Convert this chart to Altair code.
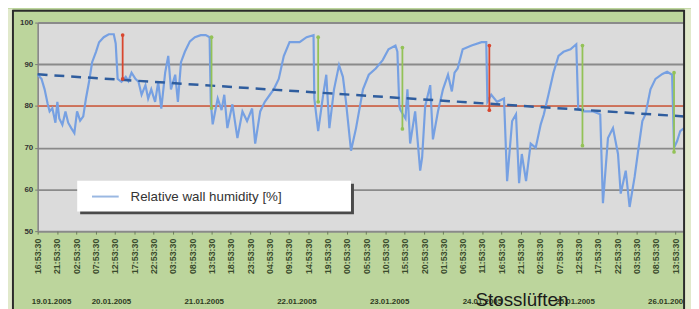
import altair as alt
import pandas as pd

# ---- data ----
hours = [0.0, 1.0, 1.8, 2.6, 3.1, 3.8, 4.6, 5.1, 5.6, 6.4,
         7.2, 7.9, 8.7, 9.5, 10.2, 11.0, 11.8, 12.5, 13.3, 14.1,
         15.1, 15.9, 17.1, 18.4, 19.7, 20.2, 20.7, 21.7, 22.8, 23.5,
         24.3, 25.3, 26.1, 26.9, 27.9, 28.6, 29.4, 30.4, 31.2, 32.0,
         33.0, 33.8, 34.5, 35.6, 36.3, 37.1, 38.1, 39.4, 40.7, 42.2,
         43.5, 44.5, 44.8, 45.3, 46.0, 46.6, 47.6, 48.3, 49.1, 50.4,
         51.7, 53.0, 54.2, 55.5, 56.3, 57.6, 58.8, 60.1, 61.1, 62.4,
         63.7, 65.2, 67.8, 69.6, 71.4, 71.6, 72.6, 73.9, 74.7, 75.5,
         76.7, 78.0, 79.0, 79.8, 81.1, 82.4, 84.2, 85.7, 87.5, 89.3,
         90.8, 92.6, 93.1, 93.6, 93.9, 95.2, 95.7, 96.4, 97.7, 99.0,
         99.5, 100.3, 101.6, 102.3, 103.6, 104.9, 106.2, 107.2, 107.9, 108.7,
         110.0, 112.3, 114.9, 116.1, 116.4, 117.4, 118.9, 120.7, 121.5, 122.8,
         123.8, 124.6, 125.3, 126.4, 127.6, 128.9, 130.2, 131.0, 132.2, 133.5,
         134.8, 136.1, 137.9, 139.4, 139.9, 141.2, 143.8, 145.6, 146.3, 147.6,
         148.9, 150.2, 150.9, 152.2, 153.2, 154.5, 155.3, 156.5, 157.3, 158.6,
         159.9, 161.7, 162.9, 164.2, 164.7, 165.5, 166.3, 167.3]
humidity = [87.5, 86.5, 84.0, 80.5, 78.7, 79.5, 76.0, 81.0, 77.0, 75.5,
            78.7, 76.0, 74.7, 73.5, 78.7, 76.5, 77.5, 81.8, 85.8, 90.5,
            93.0, 95.3, 96.5, 97.2, 97.2, 95.0, 86.5, 85.8, 87.0, 86.0,
            88.0, 86.5, 85.8, 82.7, 85.0, 81.8, 84.0, 81.0, 85.8, 79.4,
            88.0, 92.0, 84.0, 87.5, 81.0, 90.5, 93.0, 95.5, 96.5, 97.0,
            97.0, 96.5, 81.0, 75.6, 79.0, 81.8, 79.0, 82.7, 74.7, 80.4,
            72.3, 78.7, 76.4, 79.4, 71.0, 78.7, 81.0, 82.7, 84.0, 86.5,
            92.0, 95.3, 95.3, 96.5, 97.0, 81.8, 74.0, 82.7, 87.5, 74.7,
            84.0, 89.8, 87.0, 81.0, 69.3, 74.7, 84.0, 87.5, 89.0, 91.0,
            93.6, 94.5, 93.0, 80.0, 79.0, 77.0, 84.0, 71.0, 78.7, 64.5,
            67.6, 80.0, 85.0, 72.0, 78.7, 84.0, 87.5, 83.5, 88.0, 89.0,
            93.6, 94.5, 95.3, 95.3, 81.0, 82.7, 81.0, 81.8, 62.0, 76.4,
            78.0, 61.5, 68.5, 62.0, 71.0, 70.0, 75.6, 78.0, 82.7, 88.0,
            92.0, 93.0, 93.6, 94.8, 79.4, 78.7, 78.7, 78.0, 56.7, 72.3,
            74.7, 68.5, 59.0, 64.5, 55.8, 63.0, 68.5, 76.4, 78.0, 84.0,
            86.5, 87.7, 88.2, 87.5, 70.0, 71.6, 74.0, 74.7]

trend_hours = [0.0, 167.3]
trend_values = [87.6, 77.5]

threshold = [80]

marker_hours = [22.0, 45.0, 72.6, 94.4, 116.9, 141.0, 164.7]
marker_top = [97.0, 96.5, 96.5, 94.0, 94.5, 94.5, 88.0]
marker_bottom = [86.5, 79.5, 81.0, 74.5, 79.0, 70.5, 69.0]
marker_colors = ["#d8472f", "#93c257", "#93c257", "#93c257", "#d8472f", "#93c257", "#93c257"]

tick_labels = ["16:53:30", "21:53:30", "02:53:30", "07:53:30", "12:53:30", "17:53:30",
               "22:53:30", "03:53:30", "08:53:30", "13:53:30", "18:53:30", "23:53:30",
               "04:53:30", "09:53:30", "14:53:30", "19:53:30", "00:53:30", "05:53:30",
               "10:53:30", "15:53:30", "20:53:30", "01:53:30", "06:53:30", "11:53:30",
               "16:53:30", "21:53:30", "02:53:30", "07:53:30", "12:53:30", "17:53:30",
               "22:53:30", "03:53:30", "08:53:30", "13:53:30"]
tick_step = 5

date_labels = ["19.01.2005", "20.01.2005", "21.01.2005", "22.01.2005",
               "23.01.2005", "24.01.2005", "25.01.2005", "26.01.2005"]
date_hours = [3.6, 19.1, 43.1, 67.1, 91.1, 115.1, 139.1, 163.1]

y_ticks = [50, 60, 70, 80, 90, 100]
legend_label = "Relative wall humidity [%]"
note_text = "Stosslüften"

# ---- tables ----
line_df = pd.DataFrame({"h": hours, "v": humidity})
trend_df = pd.DataFrame({"h": trend_hours, "v": trend_values})
thr_df = pd.DataFrame({"v": threshold})
mk_df = pd.DataFrame({"h": marker_hours, "top": marker_top, "bot": marker_bottom, "c": marker_colors})
date_df = pd.DataFrame({"h": date_hours, "t": date_labels})
one = alt.Data(values=[{"k": 1}])

W, H = 654, 211
FONT = "Liberation Sans"
OUTSIDE = "#e1e9cb"

label_js = "[" + ",".join("'" + s + "'" for s in tick_labels) + "][round(datum.value / %d)]" % tick_step
tick_vals = [i * tick_step for i in range(len(tick_labels))]

xscale = alt.Scale(domain=[0, 167.3], nice=False, zero=False)
yscale = alt.Scale(domain=[50, 100], nice=False, zero=False)

xaxis = alt.Axis(values=tick_vals, labelExpr=label_js, labelAngle=270, labelFontSize=9,
                 labelFontWeight="bold", labelColor="#3a4a2c", labelFont=FONT,
                 tickColor="#6a7a5a", tickSize=3, labelPadding=4, domain=False,
                 grid=False, title=None, labelOverlap=False, labelBound=False,
                 labelFlush=False)
yaxis = alt.Axis(values=y_ticks, labelFontSize=8, labelFontWeight="bold", labelColor="#333333",
                 labelFont=FONT, tickColor="#777777", tickSize=3, labelPadding=2,
                 domain=True, domainColor="#808080", domainWidth=1.5,
                 grid=True, gridColor="#8a8a8a", gridWidth=2, title=None)


def X(field):
    return alt.X(field, type="quantitative", scale=xscale, axis=xaxis)


def Y(field):
    return alt.Y(field, type="quantitative", scale=yscale, axis=yaxis)


# decorative frame and outside strips
left_strip = alt.Chart(one).mark_rect(fill=OUTSIDE).encode(
    x=alt.value(-31), x2=alt.value(-25), y=alt.value(-14), y2=alt.value(300))
right_strip = alt.Chart(one).mark_rect(fill=OUTSIDE).encode(
    x=alt.value(W), x2=alt.value(W + 10), y=alt.value(-14), y2=alt.value(300))
frame = alt.Chart(one).mark_rect(fillOpacity=0, stroke="#2b2b2b", strokeWidth=2).encode(
    x=alt.value(-25), x2=alt.value(W), y=alt.value(-12), y2=alt.value(300))

thr = alt.Chart(thr_df).mark_rule(color="#e0694a", strokeWidth=1.5).encode(y=Y("v"))

line = alt.Chart(line_df).mark_line(color="#76a0e2", strokeWidth=2.2).encode(x=X("h"), y=Y("v"))

trend = alt.Chart(trend_df).mark_line(color="#2f5d9e", strokeWidth=2.5, strokeDash=[10, 7]).encode(
    x=X("h"), y=Y("v"))

mk_rule = alt.Chart(mk_df).mark_rule(strokeWidth=1.8).encode(
    x=X("h"), y=Y("top"), y2="bot:Q", color=alt.Color("c:N", scale=None))
mk_top = alt.Chart(mk_df).mark_point(filled=True, size=14, opacity=1).encode(
    x=X("h"), y=Y("top"), color=alt.Color("c:N", scale=None))
mk_bot = alt.Chart(mk_df).mark_point(filled=True, size=14, opacity=1).encode(
    x=X("h"), y=Y("bot"), color=alt.Color("c:N", scale=None))

leg_shadow = alt.Chart(one).mark_rect(fill="#4a4a4a").encode(
    x=alt.value(43), x2=alt.value(320), y=alt.value(163), y2=alt.value(194))
leg_box = alt.Chart(one).mark_rect(fill="#ffffff").encode(
    x=alt.value(40), x2=alt.value(317), y=alt.value(160), y2=alt.value(191))
leg_line = alt.Chart(one).mark_rule(color="#9ab8e2", strokeWidth=2).encode(
    x=alt.value(55), x2=alt.value(82), y=alt.value(176))
leg_text = alt.Chart(one).mark_text(align="left", baseline="middle", fontSize=13.5,
                                    font=FONT, color="#333333").encode(
    x=alt.value(94), y=alt.value(176), text=alt.value(legend_label))

dates = alt.Chart(date_df).mark_text(baseline="middle", align="center", fontSize=8,
                                     fontWeight="bold", font=FONT, color="#2e3b22").encode(
    x=X("h"), y=alt.value(283), text="t:N")

note = alt.Chart(one).mark_text(align="center", baseline="alphabetic", fontSize=19,
                                font=FONT, color="#1a1a1a").encode(
    x=alt.value(490), y=alt.value(287), text=alt.value(note_text))

chart = alt.layer(
    thr, line, trend, mk_rule, mk_top, mk_bot,
    leg_shadow, leg_box, leg_line, leg_text, dates, note,
    left_strip, right_strip, frame
).properties(
    width=W, height=H,
    autosize=alt.AutoSizeParams(type="none"),
    padding={"left": 30, "top": 13, "right": 7, "bottom": 77},
    background="#bcd59c",
).configure_view(stroke=None, fill="#dbdbdb").configure_axis(zindex=0)

chart.save("out.html", embed_options={"renderer": "svg", "actions": False})
